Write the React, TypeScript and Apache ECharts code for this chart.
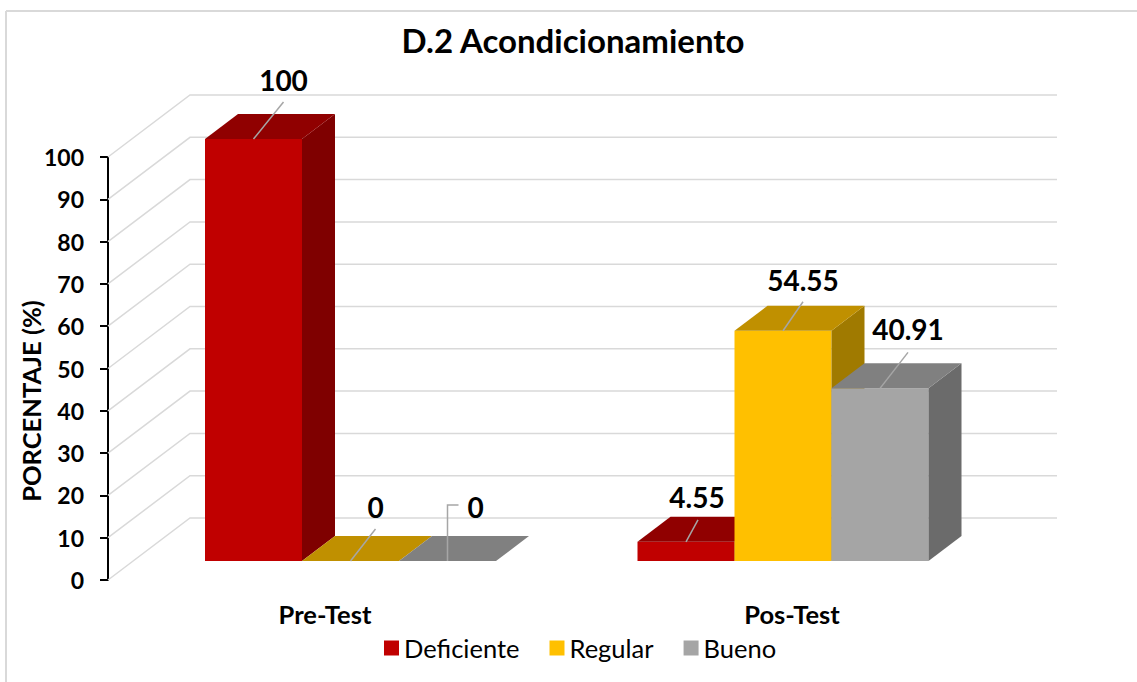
import React, { useEffect, useRef } from 'react';
import * as echarts from 'echarts';

const CATEGORIES = ['Pre-Test', 'Pos-Test'];
const SERIES_NAMES = ['Deficiente', 'Regular', 'Bueno'];
const DEFICIENTE = [100, 4.55];
const REGULAR = [0, 54.55];
const BUENO = [0, 40.91];
const Y_TICKS = [0, 10, 20, 30, 40, 50, 60, 70, 80, 90, 100];

const SERIES_VALUES = [DEFICIENTE, REGULAR, BUENO];

// styles
const FONT = 'Lato';
const FRONT = ['#C00000', '#FFC000', '#A5A5A5'];
const TOP = ['#900000', '#C09000', '#808080'];
const SIDE = ['#7F0000', '#A07A00', '#6B6B6B'];
const BAR_RATIO = 97 / 432.5;
const DX = 33;
const DY = -25;
const WALL_DX = 82;
const WALL_DY = -62;
// leader line shapes (pixel offsets from the bar's front-top centre), per series, per category
const LEADERS = [
  [[[0, 0], [30, -37]], [[0, 0], [12, -22]]],
  [[[0, 0], [25, -32]], [[0, 0], [20, -29]]],
  [[[0, 0], [0, -56], [11, -56]], [[0, 0], [28, -36]]],
];
const LABEL_POS = [
  [[30, -59], [11, -45]],
  [[25, -54], [20, -51]],
  [[28, -54], [28, -59]],
];

function barGeom(api: any, s: number) {
  const cat = api.value(0);
  const val = api.value(1);
  const top = api.coord([cat, val]);
  const base = api.coord([cat, 0]);
  const band = api.size([1, 0])[0];
  const bw = band * BAR_RATIO;
  const x0 = top[0] - 1.5 * bw + s * bw;
  return { x0, x1: x0 + bw, yT: top[1], yB: base[1] };
}

function makeBarRender(s: number) {
  return (params: any, api: any) => {
    const { x0, x1, yT, yB } = barGeom(api, s);
    return {
      type: 'group',
      children: [
        {
          type: 'polygon',
          shape: { points: [[x0, yT], [x1, yT], [x1, yB], [x0, yB]] },
          style: { fill: FRONT[s] },
        },
        {
          type: 'polygon',
          shape: { points: [[x1, yT], [x1 + DX, yT + DY], [x1 + DX, yB + DY], [x1, yB]] },
          style: { fill: SIDE[s] },
        },
        {
          type: 'polygon',
          shape: { points: [[x0, yT], [x0 + DX, yT + DY], [x1 + DX, yT + DY], [x1, yT]] },
          style: { fill: TOP[s] },
        },
      ],
    };
  };
}

function makeLabelRender(s: number) {
  return (params: any, api: any) => {
    const { x0, x1, yT } = barGeom(api, s);
    const cat = api.value(0);
    const val = api.value(1);
    const cx = (x0 + x1) / 2;
    const pts = LEADERS[s][cat].map((p: number[]) => [cx + p[0], yT + p[1]]);
    const lp = LABEL_POS[s][cat];
    return {
      type: 'group',
      children: [
        {
          type: 'polyline',
          shape: { points: pts },
          style: { stroke: '#A6A6A6', lineWidth: 1.5, fill: 'none' },
        },
        {
          type: 'text',
          x: cx + lp[0],
          y: yT + lp[1],
          style: {
            text: String(val),
            fill: '#000',
            font: `bold 28px ${FONT}`,
            align: 'center',
            verticalAlign: 'middle',
            textAlign: 'center',
            textVerticalAlign: 'middle',
          },
        },
      ],
    };
  };
}

const wallRender = (params: any, api: any) => {
  const v = api.value(1);
  const p = api.coord([0, v]);
  const xEnd = params.coordSys.x + params.coordSys.width;
  return {
    type: 'polyline',
    shape: {
      points: [
        [p[0], p[1]],
        [p[0] + WALL_DX, p[1] + WALL_DY],
        [xEnd, p[1] + WALL_DY],
      ],
    },
    style: { stroke: '#D9D9D9', lineWidth: 1.5, fill: 'none' },
  };
};

export default function App() {
  const ref = useRef<HTMLDivElement>(null);
  useEffect(() => {
    document.body.style.margin = '0';
    const chart = echarts.init(ref.current!, null, { renderer: 'svg' });
    const barSeries = SERIES_NAMES.map((name, s) => ({
      name,
      type: 'custom',
      xAxisIndex: 1,
      yAxisIndex: 1,
      itemStyle: { color: FRONT[s] },
      renderItem: makeBarRender(s),
      encode: { x: 0, y: 1 },
      data: CATEGORIES.map((c, i) => [i, SERIES_VALUES[s][i]]),
      z: 2,
    }));
    const labelSeries = SERIES_NAMES.map((name, s) => ({
      name: name + ' etiqueta',
      type: 'custom',
      xAxisIndex: 1,
      yAxisIndex: 1,
      renderItem: makeLabelRender(s),
      encode: { x: 0, y: 1 },
      data: CATEGORIES.map((c, i) => [i, SERIES_VALUES[s][i]]),
      z: 5,
      silent: true,
    }));
    const option: any = {
      animation: false,
      backgroundColor: '#fff',
      textStyle: { fontFamily: FONT },
      graphic: [
        { type: 'line', shape: { x1: 6, y1: 11, x2: 6, y2: 682 }, style: { stroke: '#D9D9D9', lineWidth: 2 } },
        { type: 'line', shape: { x1: 6, y1: 11, x2: 1137, y2: 11 }, style: { stroke: '#D9D9D9', lineWidth: 2 } },
        {
          type: 'text',
          x: 573,
          y: 40,
          style: {
            text: 'D.2 Acondicionamiento',
            font: `bold 33px ${FONT}`,
            fill: '#000',
            align: 'center',
            verticalAlign: 'middle',
            textAlign: 'center',
            textVerticalAlign: 'middle',
          },
        },
        {
          type: 'text',
          x: 31,
          y: 401,
          rotation: Math.PI / 2,
          style: {
            text: 'PORCENTAJE (%)',
            font: `bold 25.5px ${FONT}`,
            fill: '#000',
            align: 'center',
            verticalAlign: 'middle',
            textAlign: 'center',
            textVerticalAlign: 'middle',
          },
        },
      ],
      legend: {
        data: SERIES_NAMES,
        left: 379,
        top: 630,
        icon: 'rect',
        itemWidth: 15,
        itemHeight: 15,
        itemGap: 30,
        textStyle: { fontFamily: FONT, fontSize: 25.5, color: '#000' },
      },
      grid: [
        { left: 108, top: 157, width: 949, height: 423 },
        { left: 134.25, top: 139, width: 865, height: 422 },
        { left: 91.5, top: 157, width: 934, height: 423 },
      ],
      xAxis: [
        { gridIndex: 0, type: 'value', min: 0, max: 1, show: false },
        { gridIndex: 1, type: 'category', data: CATEGORIES, show: false },
        {
          gridIndex: 2,
          type: 'category',
          data: CATEGORIES,
          axisLine: { show: false },
          axisTick: { show: false },
          axisLabel: { fontFamily: FONT, fontSize: 25.5, fontWeight: 'bold', color: '#000', margin: 21 },
        },
      ],
      yAxis: [
        {
          gridIndex: 0,
          type: 'value',
          min: 0,
          max: 100,
          interval: 10,
          splitLine: { show: false },
          axisLine: { show: true, lineStyle: { color: '#000', width: 2 } },
          axisTick: { show: true, length: 8, lineStyle: { color: '#000', width: 2 } },
          axisLabel: { fontFamily: FONT, fontSize: 23, fontWeight: 'bold', color: '#000', margin: 24 },
        },
        { gridIndex: 1, type: 'value', min: 0, max: 100, show: false },
        { gridIndex: 2, type: 'value', min: 0, max: 100, show: false },
      ],
      series: [
        {
          name: 'wall',
          type: 'custom',
          xAxisIndex: 0,
          yAxisIndex: 0,
          renderItem: wallRender,
          encode: { x: 0, y: 1 },
          data: Y_TICKS.map((v) => [0, v]),
          z: 1,
          silent: true,
        },
        ...barSeries,
        ...labelSeries,
      ],
    };
    chart.setOption(option);
    return () => chart.dispose();
  }, []);
  return <div ref={ref} style={{ width: 1137, height: 682 }} />;
}
